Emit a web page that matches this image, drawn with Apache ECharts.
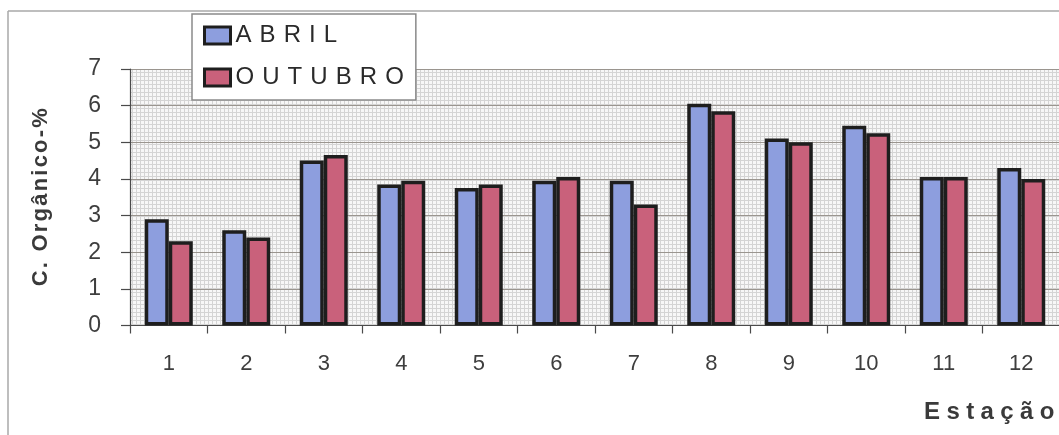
<!DOCTYPE html>
<html>
<head>
<meta charset="utf-8">
<script src="https://cdn.jsdelivr.net/npm/echarts@6/dist/echarts.min.js"></script>
<style>
  html, body { margin: 0; padding: 0; background: #ffffff; }
  #chart { width: 1059px; height: 435px; }
</style>
</head>
<body>
<div id="chart"></div>
<script>
// Organic carbon (%) per sampling station, April and October campaigns
const stations = ['1', '2', '3', '4', '5', '6', '7', '8', '9', '10', '11', '12'];
const abril    = [2.9, 2.6, 4.5, 3.85, 3.75, 3.95, 3.95, 6.05, 5.1, 5.45, 4.05, 4.3];
const outubro  = [2.3, 2.4, 4.65, 3.95, 3.85, 4.05, 3.3, 5.85, 5.0, 5.25, 4.05, 4.0];
const yTicks   = [0, 1, 2, 3, 4, 5, 6, 7];
const xTitle   = 'Estação';
const yTitle   = 'C. Orgânico-%';

const FONT = '"Liberation Sans", Arial, sans-serif';

// widen letter spacing with a spacer glyph in rich text
function spaced(str) {
  return str.split('').join('{s| }');
}

// fine dotted fill for the plot area
function dottedPattern() {
  const c = document.createElement('canvas');
  c.width = 4; c.height = 4;
  const g = c.getContext('2d');
  g.fillStyle = '#f7f7f7';
  g.fillRect(0, 0, 4, 4);
  g.fillStyle = '#d4d4d4';
  g.fillRect(0, 0, 4, 1);
  g.fillRect(0, 0, 1, 4);
  return { image: c, repeat: 'repeat' };
}

const chart = echarts.init(document.getElementById('chart'), null, { renderer: 'canvas' });

chart.setOption({
  animation: false,
  backgroundColor: '#ffffff',
  textStyle: { fontFamily: FONT },
  graphic: [
    { type: 'line', shape: { x1: 8, y1: 11, x2: 1059, y2: 11 }, style: { stroke: '#a8a8a8', lineWidth: 1.5 }, z: 0 },
    { type: 'line', shape: { x1: 8, y1: 11, x2: 8, y2: 435 }, style: { stroke: '#a8a8a8', lineWidth: 1.5 }, z: 0 },
    {
      type: 'text', left: 924, top: 400, z: 10,
      style: {
        text: spaced(xTitle),
        font: 'bold 24px ' + FONT,
        fill: '#3a3a3a',
        rich: { s: { font: 'bold 23px ' + FONT } }
      }
    }
  ],
  grid: {
    left: 130, top: 69, right: -1, bottom: 109.5,
    outerBoundsMode: 'none',
    containLabel: false,
    show: true,
    backgroundColor: dottedPattern(),
    borderWidth: 0
  },
  legend: {
    orient: 'vertical',
    left: 192, top: 14,
    padding: [7, 12, 8, 11],
    backgroundColor: '#ffffff',
    borderColor: '#8a8a8a',
    borderWidth: 1.5,
    borderRadius: 0,
    itemWidth: 26,
    itemHeight: 17,
    itemGap: 13,
    icon: 'rect',
    itemStyle: { borderColor: '#1e1e1e', borderWidth: 3 },
    formatter: name => spaced(name),
    textStyle: {
      fontFamily: FONT, fontSize: 24, color: '#2a2a2a', lineHeight: 24,
      rich: { s: { fontSize: 29, lineHeight: 24 } }
    },
    data: ['ABRIL', 'OUTUBRO']
  },
  xAxis: {
    type: 'category',
    data: stations,
    boundaryGap: true,
    axisLine: { show: true, lineStyle: { color: '#4a4a4a', width: 1.2 } },
    axisTick: { show: true, length: 8, alignWithLabel: false, lineStyle: { color: '#4a4a4a', width: 1.2 } },
    axisLabel: { fontFamily: FONT, fontSize: 22, color: '#3e3e3e', margin: 27 },
    splitLine: { show: false }
  },
  yAxis: {
    type: 'value',
    min: yTicks[0], max: yTicks[yTicks.length - 1], interval: 1,
    name: spaced(yTitle),
    nameLocation: 'middle',
    nameRotate: 90,
    nameGap: 78,
    nameTextStyle: {
      fontFamily: FONT, fontSize: 22, fontWeight: 'bold', color: '#3a3a3a',
      rich: { s: { fontSize: 8 } }
    },
    axisLine: { show: true, lineStyle: { color: '#4a4a4a', width: 1.2 } },
    axisTick: { show: true, length: 9, inside: false, lineStyle: { color: '#4a4a4a', width: 1.2 } },
    axisLabel: { fontFamily: FONT, fontSize: 23, color: '#3e3e3e', margin: 29 },
    splitLine: { show: true, lineStyle: { color: '#9a958f', width: 1 } }
  },
  series: [
    {
      name: 'ABRIL', type: 'bar', data: abril,
      barWidth: 24, barGap: '0%',
      itemStyle: { color: '#8d9ede', borderColor: '#1e1e1e', borderWidth: 3.5 }
    },
    {
      name: 'OUTUBRO', type: 'bar', data: outubro,
      barWidth: 24, barGap: '0%',
      itemStyle: { color: '#c9617b', borderColor: '#1e1e1e', borderWidth: 3.5 }
    }
  ]
});
</script>
</body>
</html>
